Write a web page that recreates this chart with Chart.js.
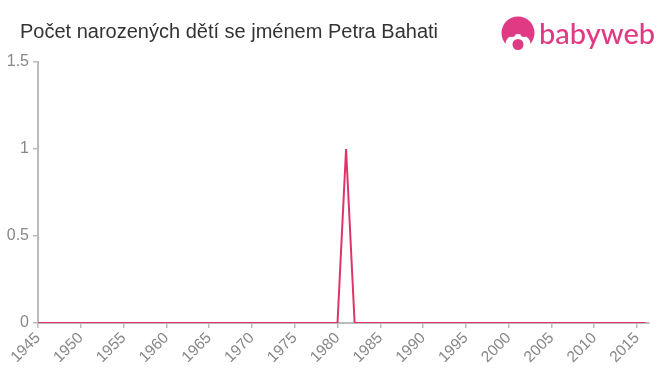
<!DOCTYPE html>
<html>
<head>
<meta charset="utf-8">
<script src="https://cdn.jsdelivr.net/npm/chart.js@4/dist/chart.umd.min.js"></script>
<style>
html,body{margin:0;padding:0;background:#fff;}
#wrap{width:660px;height:375px;position:relative;}
</style>
</head>
<body>
<div id="wrap"><canvas id="c" width="660" height="375"></canvas></div>
<script>
const title = "Počet narozených dětí se jménem Petra Bahati";
const years = [1945,1946,1947,1948,1949,1950,1951,1952,1953,1954,1955,1956,1957,1958,1959,1960,1961,1962,1963,1964,1965,1966,1967,1968,1969,1970,1971,1972,1973,1974,1975,1976,1977,1978,1979,1980,1981,1982,1983,1984,1985,1986,1987,1988,1989,1990,1991,1992,1993,1994,1995,1996,1997,1998,1999,2000,2001,2002,2003,2004,2005,2006,2007,2008,2009,2010,2011,2012,2013,2014,2015,2016];
const births = [0,0,0,0,0,0,0,0,0,0,0,0,0,0,0,0,0,0,0,0,0,0,0,0,0,0,0,0,0,0,0,0,0,0,0,0,1,0,0,0,0,0,0,0,0,0,0,0,0,0,0,0,0,0,0,0,0,0,0,0,0,0,0,0,0,0,0,0,0,0,0,0];
const xTicks = [1945,1950,1955,1960,1965,1970,1975,1980,1985,1990,1995,2000,2005,2010,2015];
const yTicks = [0,0.5,1,1.5];

const headerPlugin = {
  id: 'header',
  afterDraw(chart) {
    const ctx = chart.ctx;
    ctx.save();
    ctx.fillStyle = '#333333';
    ctx.font = '20px "Liberation Sans", Arial, sans-serif';
    ctx.textBaseline = 'alphabetic';
    ctx.textAlign = 'left';
    ctx.fillText(title, 20, 38);
    // logo
    const pink = '#e03a84';
    ctx.fillStyle = pink;
    ctx.beginPath();
    ctx.arc(518, 33, 16.5, 0, Math.PI * 2);
    ctx.fill();
    ctx.fillStyle = '#ffffff';
    ctx.beginPath();
    ctx.ellipse(518, 44, 12.5, 10, 0, 0, Math.PI * 2);
    ctx.fill();
    ctx.fillStyle = pink;
    ctx.beginPath();
    ctx.arc(512, 33.5, 3.5, 0, Math.PI * 2);
    ctx.fill();
    ctx.beginPath();
    ctx.arc(524, 33.5, 3.5, 0, Math.PI * 2);
    ctx.fill();
    ctx.beginPath();
    ctx.arc(518, 44.5, 5.5, 0, Math.PI * 2);
    ctx.fill();
    ctx.fillStyle = pink;
    ctx.font = '500 29px Lato, "Noto Sans", sans-serif';
    ctx.fillText('babyweb', 539, 44);
    ctx.restore();
  }
};

new Chart(document.getElementById('c'), {
  type: 'line',
  data: {
    datasets: [{
      data: years.map((y, i) => ({x: y, y: births[i]})),
      borderColor: '#de3569',
      borderWidth: 2,
      pointRadius: 0,
      tension: 0,
      fill: false
    }]
  },
  options: {
    responsive: false,
    animation: false,
    events: [],
    layout: { padding: { top: 62, right: 11, left: 0, bottom: 0 } },
    plugins: { legend: { display: false }, tooltip: { enabled: false }, title: { display: false } },
    scales: {
      x: {
        type: 'linear',
        min: 1945,
        max: 2016.4,
        afterBuildTicks(scale) { scale.ticks = xTicks.map(v => ({value: v})); },
        afterFit(scale) { scale.height = 52; },
        ticks: {
          autoSkip: false,
          minRotation: 45,
          maxRotation: 45,
          color: '#888888',
          font: { size: 15.5, family: '"Liberation Sans", Arial, sans-serif' },
          padding: 1,
          callback: v => String(v)
        },
        grid: { display: true, drawOnChartArea: false, drawTicks: true, tickLength: 5, color: '#bbbbbb', lineWidth: 1.5 },
        border: { display: true, color: '#bbbbbb', width: 2 }
      },
      y: {
        type: 'linear',
        min: 0,
        max: 1.5,
        afterBuildTicks(scale) { scale.ticks = yTicks.map(v => ({value: v})); },
        afterFit(scale) { scale.width = 38; },
        ticks: {
          color: '#888888',
          font: { size: 16, family: '"Liberation Sans", Arial, sans-serif' },
          padding: 4,
          callback: v => String(v)
        },
        grid: { display: true, drawOnChartArea: false, drawTicks: true, tickLength: 5, color: '#bbbbbb', lineWidth: 1.5 },
        border: { display: true, color: '#bbbbbb', width: 2 }
      }
    }
  },
  plugins: [headerPlugin]
});
</script>
</body>
</html>
